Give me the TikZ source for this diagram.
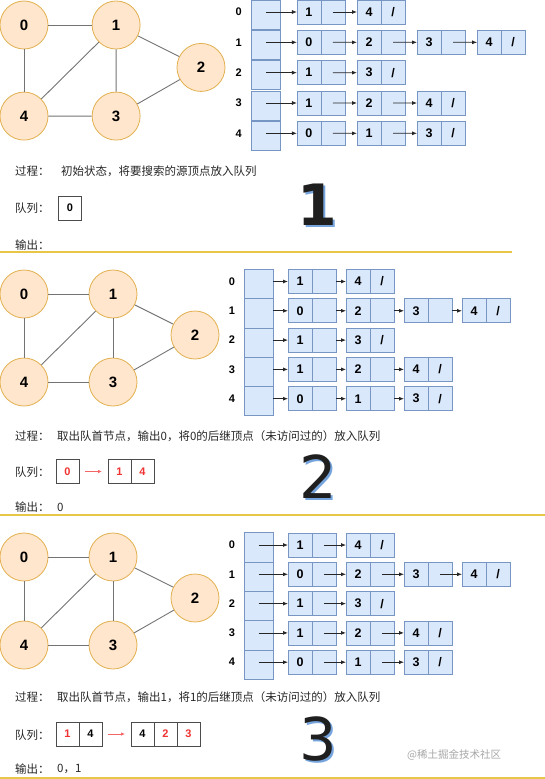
\documentclass[tikz,border=0pt]{standalone}
\usepackage{fontspec}
\setmainfont{Liberation Sans}
\newfontfamily\cjk{Noto Sans CJK SC}
\newfontfamily\bigfont{DejaVu Sans}
\usetikzlibrary{arrows.meta, positioning}
\definecolor{vertexfill}{RGB}{255,230,204}
\definecolor{vertexdraw}{RGB}{226,176,80}
\definecolor{cellfill}{RGB}{218,232,252}
\definecolor{celldraw}{RGB}{120,150,195}
\definecolor{qred}{RGB}{240,50,50}
\definecolor{sepgold}{RGB}{232,198,72}
\definecolor{shadowblue}{RGB}{118,165,222}

% graph of one step: #1 = name prefix
\newcommand{\bfsgraph}[1]{%
  \node[vertex] (#1v0) at (0,0) {0};
  \node[vertex] (#1v1) at (89,0) {1};
  \node[vertex] (#1v2) at (171,41) {2};
  \node[vertex] (#1v3) at (89,88) {3};
  \node[vertex] (#1v4) at (0,88) {4};
  \foreach \a/\b in {0/1,0/4,1/4,1/3,1/2,4/3,3/2}
    \draw[edge] (#1v\a) -- (#1v\b);
}

% adjacency list: #1 = name prefix, #2 = anchor the links start from
\newcommand{\bfslist}[2]{%
  \foreach \row/\len/\items in {0/2/{1,4}, 1/4/{0,2,3,4}, 2/2/{1,3}, 3/3/{1,2,4}, 4/3/{0,1,3}} {
    \node[rowlabel] (#1l\row) at (-12,\row*29.3) {\row};
    \node[arraycell] (#1a\row) at (14.5,\row*29.3+2.5) {};
    \foreach \v [count=\k] in \items {
      \node[cell] (#1c\row-\k) at (56+58*\k-58,\row*29.3) {\v};
      \node[cell, right=0pt of #1c\row-\k] (#1p\row-\k) {\ifnum\k=\len /\fi};
      \ifnum\k=1
        \draw[link] (#1a\row.#2 |- #1c\row-1.west) -- (#1c\row-1.west);
      \else
        \pgfmathtruncatemacro\prev{\k-1}
        \draw[link] (#1p\row-\prev.#2) -- (#1c\row-\k.west);
      \fi
    }
  }%
}

\begin{document}
\begin{tikzpicture}[
    x=1pt, y=-1pt,
    vertex/.style={
        circle,
        draw=vertexdraw,
        fill=vertexfill,
        line width=0.8pt,
        minimum size=48pt,
        inner sep=0pt,
        font=\bfseries\fontsize{15}{15}\selectfont
    },
    edge/.style={draw=black!55, line width=0.9pt},
    cell/.style={
        draw=celldraw,
        fill=cellfill,
        line width=0.8pt,
        minimum width=24pt,
        minimum height=24pt,
        inner sep=0pt,
        outer sep=0pt,
        font=\bfseries\fontsize{12.5}{12.5}\selectfont
    },
    arraycell/.style={cell, minimum width=29pt, minimum height=29.3pt},
    rowlabel/.style={font=\bfseries\fontsize{11}{11}\selectfont},
    link/.style={-{Latex[length=5pt,width=4pt]}, line width=0.8pt, black!85},
    qcell/.style={
        draw=black!70,
        fill=white,
        line width=0.8pt,
        minimum width=23pt,
        minimum height=24pt,
        inner sep=0pt,
        outer sep=0pt,
        font=\bfseries\fontsize{11}{11}\selectfont
    },
    qlink/.style={-{Latex[length=4pt,width=3.5pt]}, line width=0.8pt, qred!75, shorten <=6pt, shorten >=6pt},
    txt/.style={anchor=west, inner sep=0pt, text=black!85, font=\cjk\fontsize{11.5}{11.5}\selectfont},
    bignum/.style={font=\bigfont\fontsize{59}{59}\selectfont, text=black!88},
    bigshadow/.style={font=\bigfont\fontsize{59}{59}\selectfont, text=shadowblue},
    sepline/.style={draw=sepgold, line width=1.2pt}
]
\useasboundingbox (0,0) rectangle (545,779);

% step 1
\begin{scope}[shift={(24,25)}, scale=1.035]
  \bfsgraph{a}
\end{scope}
\begin{scope}[shift={(251,12)}, scale=1.035]
  \bfslist{a}{center}
\end{scope}
\node[txt] (a_proc) at (15,171) {过程：};
\node[txt] (a_desc) at (61,171) {初始状态，将要搜索的源顶点放入队列};
\node[txt] (a_queue) at (15,208) {队列：};
\node[qcell] (aq1) at (70,208) {0};
\node[txt] (a_out) at (15,245) {输出：};
\node[bigshadow, font=\bigfont\bfseries\fontsize{57}{57}\selectfont] (a_nums) at (319.5,206.5) {1};
\node[bignum, font=\bigfont\bfseries\fontsize{57}{57}\selectfont] (a_num) at (317.5,204.5) {1};
\draw[sepline] (0,252) -- (512,252);

% step 2
\begin{scope}[shift={(24,294)}]
  \bfsgraph{b}
\end{scope}
\begin{scope}[shift={(244,281.5)}]
  \bfslist{b}{east}
\end{scope}
\node[txt] (b_proc) at (15,436) {过程：};
\node[txt] (b_desc) at (57,436) {取出队首节点，输出0，将0的后继顶点（未访问过的）放入队列};
\node[txt] (b_queue) at (15,472) {队列：};
\node[qcell, text=qred] (bq1) at (67.5,471.5) {0};
\node[qcell, text=qred] (bq2) at (119.5,471.5) {1};
\node[qcell, text=qred, right=0pt of bq2] (bq3) {4};
\draw[qlink] (bq1) -- (bq2);
\node[txt] (b_out) at (15,507) {输出：};
\node[txt] (b_outv) at (57,507) {0};
\node[bigshadow] (b_nums) at (320,479) {2};
\node[bignum] (b_num) at (318,477) {2};
\draw[sepline] (0,515) -- (545,515);

% step 3
\begin{scope}[shift={(24,557)}]
  \bfsgraph{c}
\end{scope}
\begin{scope}[shift={(244,545)}]
  \bfslist{c}{center}
\end{scope}
\node[txt] (c_proc) at (15,697) {过程：};
\node[txt] (c_desc) at (57,697) {取出队首节点，输出1，将1的后继顶点（未访问过的）放入队列};
\node[txt] (c_queue) at (15,735) {队列：};
\node[qcell, text=qred] (cq1) at (67.5,734) {1};
\node[qcell, right=0pt of cq1] (cq2) {4};
\node[qcell] (cq3) at (142.5,734) {4};
\node[qcell, text=qred, right=0pt of cq3] (cq4) {2};
\node[qcell, text=qred, right=0pt of cq4] (cq5) {3};
\draw[qlink] (cq2) -- (cq3);
\node[txt] (c_out) at (15,769) {输出：};
\node[txt] (c_outv) at (57,769) {0，1};
\node[bigshadow] (c_nums) at (320,741) {3};
\node[bignum] (c_num) at (318,739) {3};
\node[txt, text=black!35, font=\cjk\fontsize{10.5}{10.5}\selectfont] (mark) at (407,755) {@稀土掘金技术社区};
\draw[sepline] (0,778) -- (545,778);

\end{tikzpicture}
\end{document}
